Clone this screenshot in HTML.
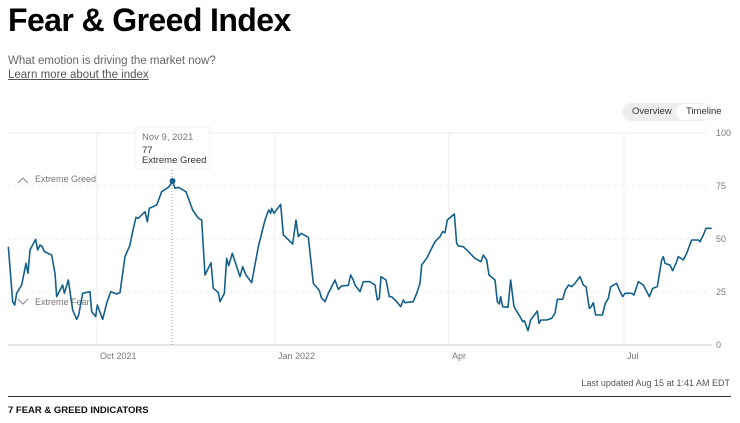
<!DOCTYPE html>
<html><head><meta charset="utf-8"><style>
body{margin:0;width:740px;height:423px;background:#fff;font-family:"Liberation Sans",Arial,sans-serif;position:relative;overflow:hidden}
.a{position:absolute;white-space:nowrap}
</style></head><body>
<div class="a" style="left:8px;top:2px;font-size:32px;font-weight:bold;color:#000;letter-spacing:-0.6px">Fear &amp; Greed Index</div>
<div class="a" style="left:8px;top:55px;font-size:11.5px;color:#666">What emotion is driving the market now?</div>
<div class="a" style="left:8px;top:69px;font-size:11.5px;color:#555;text-decoration:underline">Learn more about the index</div>
<div class="a" style="left:622px;top:103px;width:90px;height:18px;background:#eee;border-radius:9px"></div>
<div class="a" style="left:676px;top:104px;width:35px;height:16px;background:#fff;border-radius:8px"></div>
<div class="a" style="left:632px;top:106px;font-size:9.5px;color:#333">Overview</div>
<div class="a" style="left:686px;top:106px;font-size:9.5px;color:#333">Timeline</div>
<svg class="a" style="left:0;top:0" width="740" height="423">
<g stroke="#eee" stroke-width="1">
<line x1="8" y1="133" x2="708" y2="133"/>
<line x1="8" y1="186" x2="708" y2="186" stroke-dasharray="3,3"/>
<line x1="8" y1="239" x2="708" y2="239" stroke-dasharray="3,3"/>
<line x1="8" y1="292" x2="708" y2="292" stroke-dasharray="3,3"/>
<line x1="97" y1="133" x2="97" y2="345"/>
<line x1="275" y1="133" x2="275" y2="345"/>
<line x1="449" y1="133" x2="449" y2="345"/>
<line x1="624" y1="133" x2="624" y2="345"/>
</g>
<line x1="8" y1="345" x2="712" y2="345" stroke="#ccc"/>
<g font-size="9" fill="#777">
<text x="716" y="136">100</text><text x="716" y="189">75</text><text x="716" y="242">50</text><text x="716" y="295">25</text><text x="716" y="348">0</text>
<text x="100" y="359">Oct 2021</text><text x="278" y="359">Jan 2022</text><text x="452" y="359">Apr</text><text x="627" y="359">Jul</text>
<text x="35" y="182">Extreme Greed</text><text x="35" y="305">Extreme Fear</text>
</g>
<path d="M18 183 L23 178 L28 183 M18 299 L23 304 L28 299" fill="none" stroke="#888" stroke-width="1"/>
<line x1="172" y1="170" x2="172" y2="345" stroke="#999" stroke-dasharray="1,2"/>
<g transform="translate(0,100) scale(0.33333)" fill="none" stroke="#14608a" stroke-width="1.6" vector-effect="non-scaling-stroke" stroke-linejoin="round">
<polyline vector-effect="non-scaling-stroke" points="25,440 38,605 44,615 50,580 65,555 78,490 84,520 90,450 107,418 113,450 120,435 127,440 133,455 155,465 165,520 170,590 188,555 193,580 205,540 218,630 230,658 236,645 248,580 270,575 275,635 287,650 292,615 308,658 320,610 332,575 350,582 360,578 375,470 390,435 398,395 408,352 415,355 435,335 442,365 448,325 470,315 485,275 505,262 518,245 525,265 535,262 558,275 578,330 595,355 605,360 615,525 633,488 640,565 655,578 660,605 673,580 680,475 686,497 697,460 720,530 728,500 738,525 755,548 775,440 795,360 806,330 812,340 815,325 822,340 842,313 850,405 856,410 878,432 888,360 895,410 903,400 925,412 940,550 958,572 965,595 975,605 985,580 1005,540 1015,568 1025,558 1045,556 1052,525 1060,540 1065,555 1080,575 1090,545 1110,545"/>
<polyline vector-effect="non-scaling-stroke" transform="translate(1110,0)" points="0,545 15,555 22,600 28,595 33,530 48,540 58,590 65,590 80,605 92,620 100,600 105,608 130,605 140,580 150,550 155,495 170,475 180,455 195,425 210,410 218,395 225,398 232,360 253,342 260,430 265,438 280,440 300,460 315,475 333,485 340,465 350,480 357,525 375,540 382,605 388,612 392,590 398,620 414,622 422,540 432,620 450,650 458,665 463,662 474,692 482,660 502,633 507,670 513,660 530,660 545,655 555,640 562,598 578,598 586,570 596,555 605,560 615,550 630,530 640,555 648,560 658,625 664,620 670,608 677,645 697,645 706,610 715,595 722,560 740,550 748,570 758,590 765,580 785,580 792,585 805,545 820,555 838,590 848,565 862,560 875,480 880,470 885,490 900,495 908,512 918,490 925,470 940,480 950,460 965,420 985,420 990,425 1000,405 1008,385 1025,385"/>
</g>
<circle cx="172.5" cy="181" r="3" fill="#14608a"/>
<rect x="135" y="127" width="75" height="42" fill="#fff" stroke="#f0f0f0" rx="2"/>
<g font-size="9.5"><text x="142" y="140" fill="#777">Nov 9, 2021</text><text x="142" y="153" fill="#333">77</text><text x="142" y="163" fill="#333">Extreme Greed</text></g>
<text x="730" y="386" font-size="9" fill="#555" text-anchor="end">Last updated Aug 15 at 1:41 AM EDT</text>
<line x1="8" y1="396.5" x2="731" y2="396.5" stroke="#333" stroke-width="1"/>
<text x="8" y="413" font-size="9.5" font-weight="bold" fill="#111">7 FEAR &amp; GREED INDICATORS</text>
</svg>
</body></html>
